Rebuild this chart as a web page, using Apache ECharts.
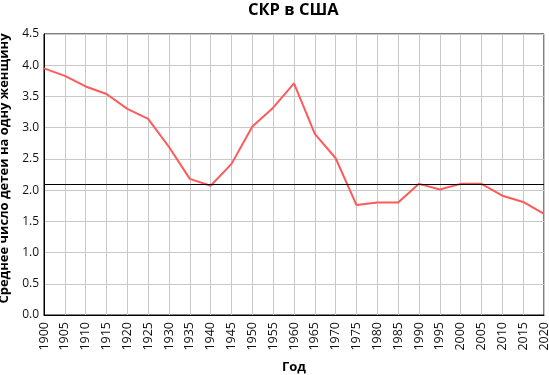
<!DOCTYPE html>
<html><head><meta charset="utf-8">
<script src="https://cdn.jsdelivr.net/npm/echarts@6/dist/echarts.min.js"></script>
<style>html,body{margin:0;padding:0;background:#fff}#c{width:549px;height:375px}</style>
</head><body><div id="c"></div>
<script>
const years = [1900,1905,1910,1915,1920,1925,1930,1935,1940,1945,1950,1955,1960,1965,1970,1975,1980,1985,1990,1995,2000,2005,2010,2015,2020];
const tfr = [3.95,3.83,3.66,3.54,3.30,3.14,2.69,2.18,2.07,2.42,3.02,3.32,3.71,2.90,2.51,1.76,1.80,1.80,2.10,2.01,2.10,2.10,1.91,1.81,1.62];
const replacementLevel = 2.1;
const titleText = 'СКР в США';
const xName = 'Год';
const yName = 'Среднее число детей на одну женщину';

const chart = echarts.init(document.getElementById('c'), null, {renderer:'canvas'});
const font = '"Open Sans", "DejaVu Sans", sans-serif';
chart.setOption({
  animation:false,
  textStyle:{fontFamily:font},
  title:{text:titleText,left:248,top:2,padding:0,textStyle:{fontFamily:font,fontSize:16.5,fontWeight:'bold',color:'#000'}},
  grid:{left:44,right:5,top:34,bottom:60,show:true,borderColor:'#000',borderWidth:1,containLabel:false,outerBoundsMode:'none'},
  xAxis:{type:'value',min:1900,max:2020,interval:5,
    name:xName,nameLocation:'middle',nameGap:46,
    nameTextStyle:{fontFamily:font,fontSize:13,fontWeight:'bold',color:'#000'},
    axisLine:{show:true,lineStyle:{color:'#000',width:1}},
    axisTick:{show:false},
    axisLabel:{rotate:90,fontSize:12.5,color:'#111',fontFamily:font,margin:7,formatter:v=>String(v)},
    splitLine:{show:true,lineStyle:{color:'#c8c8c8',width:1}}},
  yAxis:{type:'value',min:0,max:4.5,interval:0.5,
    name:yName,nameLocation:'middle',nameGap:29,
    nameTextStyle:{fontFamily:font,fontSize:13,fontWeight:'bold',color:'#000',padding:[0,0,0,12]},
    axisLine:{show:true,lineStyle:{color:'#000',width:1}},
    axisTick:{show:false},
    axisLabel:{fontSize:12,color:'#111',fontFamily:font,margin:5,formatter:v=>v.toFixed(1)},
    splitLine:{show:true,lineStyle:{color:'#c8c8c8',width:1}}},
  series:[{type:'line',data:years.map((y,i)=>[y,tfr[i]]),showSymbol:false,symbol:'none',
    lineStyle:{color:'#ff5a5a',width:2},
    markLine:{silent:true,symbol:['none','none'],label:{show:false},
      lineStyle:{color:'#000',width:1,type:'solid'},data:[{yAxis:replacementLevel}]}}]
});
</script></body></html>
